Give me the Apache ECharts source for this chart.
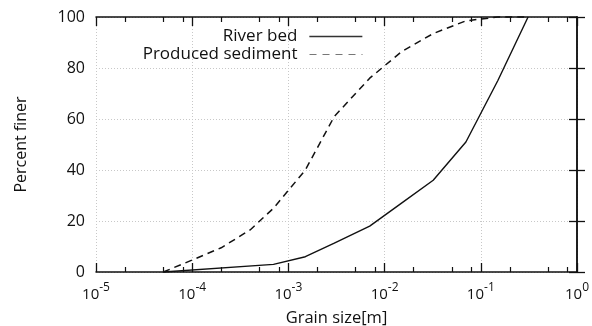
<!DOCTYPE html>
<html>
<head>
<meta charset="utf-8">
<script src="https://cdn.jsdelivr.net/npm/echarts@6/dist/echarts.min.js"></script>
<style>
html,body{margin:0;padding:0;background:#fff;}
#chart{width:592px;height:326px;}
</style>
</head>
<body>
<div id="chart"></div>
<script>
// ---- data ----
const riverBedSize = [5e-5, 7e-4, 1.5e-3, 3e-3, 7e-3, 1.5e-2, 3.2e-2, 7e-2, 0.15, 0.31];
const riverBedPercent = [0, 3, 6, 11.3, 18, 27, 36, 51, 75, 100];
const sedimentSize = [5e-5, 1e-4, 2e-4, 4e-4, 7e-4, 1.5e-3, 3e-3, 7e-3, 1.5e-2, 3.2e-2, 7e-2, 0.15, 0.31];
const sedimentPercent = [0, 4.7, 9.5, 16.5, 25, 40, 61, 76, 86.4, 93.5, 98.5, 100, 100];
const seriesNames = ['River bed', 'Produced sediment'];
const xMin = 1e-5, xMax = 1;
const yTicks = [0, 20, 40, 60, 80, 100];
const minorMultipliers = [2, 5, 8];
const decadeExponents = [-5, -4, -3, -2, -1];

const minorLogs = [];
decadeExponents.forEach(e => minorMultipliers.forEach(m => minorLogs.push(e + Math.log10(m))));

const FONT = '"Open Sans", sans-serif';
const TXT = '#111';
const gridLine = { show: true, lineStyle: { color: '#c8c8c8', type: [1, 2], width: 1 } };
const borderLine = { show: true, lineStyle: { color: '#111', width: 1.5 } };
const hiddenSymbol = { color: 'rgba(0,0,0,0)', borderColor: 'rgba(0,0,0,0)', borderWidth: 0, opacity: 0 };

const chart = echarts.init(document.getElementById('chart'), null, { renderer: 'canvas' });
chart.setOption({
  animation: false,
  backgroundColor: '#fff',
  textStyle: { fontFamily: FONT, color: TXT },
  grid: { left: 96, right: 15, top: 17, bottom: 54, containLabel: false, outerBoundsMode: 'none' },
  legend: [
    {
      data: [{ name: seriesNames[0], lineStyle: { color: '#333', width: 1.3 }, itemStyle: hiddenSymbol }],
      right: 224, top: 23, align: 'right', orient: 'vertical',
      itemWidth: 53, itemHeight: 14,
      textStyle: { fontSize: 17, color: TXT, fontFamily: FONT, padding: [0, 7, 0, 0] }
    },
    {
      data: [{ name: seriesNames[1], lineStyle: { color: '#777', width: 1, type: [7, 6] }, itemStyle: hiddenSymbol }],
      right: 224, top: 41, align: 'right', orient: 'vertical',
      itemWidth: 53, itemHeight: 14,
      textStyle: { fontSize: 17, color: TXT, fontFamily: FONT, padding: [0, 7, 0, 0] }
    }
  ],
  xAxis: [
    {
      type: 'log', logBase: 10, min: xMin, max: xMax, position: 'bottom',
      axisLine: borderLine,
      axisTick: { show: true, inside: true, length: 9, lineStyle: { color: '#111', width: 1.3 } },
      splitLine: gridLine,
      minorTick: { show: false },
      axisLabel: {
        margin: 10,
        formatter: v => '{b|10}{s|' + Math.round(Math.log10(v)) + '}',
        rich: {
          b: { fontSize: 15, fontFamily: FONT, color: TXT, lineHeight: 20, verticalAlign: 'bottom' },
          s: { fontSize: 12, fontFamily: FONT, color: TXT, verticalAlign: 'top', lineHeight: 20, padding: [0, 0, 11, 0] }
        }
      },
      name: 'Grain size[m]', nameLocation: 'middle', nameGap: 37,
      nameTextStyle: { fontSize: 16.5, fontFamily: FONT, color: TXT }
    },
    {
      type: 'value', min: -5, max: 0, position: 'bottom',
      axisLine: { show: false },
      axisTick: { show: true, inside: true, length: 5, customValues: minorLogs, lineStyle: { color: '#111', width: 1.2 } },
      axisLabel: { show: false }, splitLine: { show: false }
    },
    {
      type: 'log', logBase: 10, min: xMin, max: xMax, position: 'top',
      axisLine: borderLine,
      axisTick: { show: true, inside: true, length: 9, lineStyle: { color: '#111', width: 1.3 } },
      axisLabel: { show: false }, splitLine: { show: false }
    },
    {
      type: 'value', min: -5, max: 0, position: 'top',
      axisLine: { show: false },
      axisTick: { show: true, inside: true, length: 5, customValues: minorLogs, lineStyle: { color: '#111', width: 1.2 } },
      axisLabel: { show: false }, splitLine: { show: false }
    }
  ],
  yAxis: [
    {
      type: 'value', min: yTicks[0], max: yTicks[yTicks.length - 1], interval: 20, position: 'left',
      axisLine: borderLine,
      axisTick: { show: true, inside: true, length: 8, lineStyle: { color: '#111', width: 1.3 } },
      axisLabel: { fontSize: 16, fontFamily: FONT, color: TXT, margin: 11 },
      splitLine: gridLine,
      name: 'Percent finer', nameLocation: 'middle', nameGap: 67,
      nameTextStyle: { fontSize: 16, fontFamily: FONT, color: TXT }
    },
    {
      type: 'value', min: yTicks[0], max: yTicks[yTicks.length - 1], interval: 20, position: 'right',
      axisLine: borderLine,
      axisTick: { show: true, inside: true, length: 8, lineStyle: { color: '#111', width: 1.3 } },
      axisLabel: { show: false }, splitLine: { show: false }
    }
  ],
  series: [
    {
      name: seriesNames[0], type: 'line', xAxisIndex: 0, yAxisIndex: 0,
      data: riverBedSize.map((x, i) => [x, riverBedPercent[i]]),
      symbol: 'none', clip: false,
      lineStyle: { color: '#111', width: 1.4 }, itemStyle: { color: '#111' }
    },
    {
      name: seriesNames[1], type: 'line', xAxisIndex: 0, yAxisIndex: 0,
      data: sedimentSize.map((x, i) => [x, sedimentPercent[i]]),
      symbol: 'none', clip: false,
      lineStyle: { color: '#111', width: 1.5, type: [7, 5] }, itemStyle: { color: '#111' }
    }
  ]
});
</script>
</body>
</html>
